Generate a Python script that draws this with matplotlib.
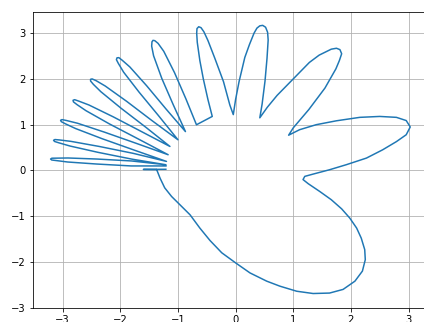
import numpy as np
import matplotlib
matplotlib.use("Agg")
import matplotlib.pyplot as plt

# points, in path order
spike = [(-1.21, 0.025), (-1.60, 0.022), (-1.37, 0.018)]

wrist = [(-1.37, 0.02), (-1.31, -0.17), (-1.23, -0.38), (-1.11, -0.57),
         (-0.965, -0.75), (-0.79, -0.97), (-0.62, -1.26), (-0.445, -1.53),
         (-0.24, -1.80), (0.0, -2.02), (0.25, -2.24), (0.54, -2.42),
         (0.77, -2.53), (1.06, -2.64), (1.345, -2.69), (1.63, -2.68),
         (1.865, -2.60), (2.07, -2.42), (2.20, -2.20), (2.25, -1.95),
         (2.24, -1.73), (2.18, -1.48), (2.10, -1.26), (1.98, -1.04),
         (1.84, -0.84), (1.66, -0.64), (1.46, -0.46), (1.26, -0.29),
         (1.17, -0.20), (1.20, -0.13), (1.345, -0.08)]

thumb = [(1.63, 0.015), (1.92, 0.125), (2.27, 0.27), (2.55, 0.45),
         (2.79, 0.63), (2.96, 0.78), (3.03, 0.95), (2.96, 1.09),
         (2.79, 1.16), (2.50, 1.18), (2.155, 1.16), (1.75, 1.085),
         (1.40, 1.0), (1.11, 0.89), (0.92, 0.77)]

finger10 = [(1.0, 0.93), (1.27, 1.33), (1.55, 1.80), (1.74, 2.22),
            (1.80, 2.40), (1.84, 2.55), (1.81, 2.64), (1.75, 2.67),
            (1.66, 2.65), (1.45, 2.52), (1.28, 2.36), (1.0, 2.0),
            (0.72, 1.64), (0.55, 1.38), (0.42, 1.15)]

finger9 = [(0.46, 1.45), (0.51, 1.95), (0.545, 2.45), (0.565, 2.85),
           (0.555, 3.02), (0.52, 3.13), (0.47, 3.17), (0.42, 3.16),
           (0.37, 3.11), (0.32, 3.00), (0.24, 2.75), (0.16, 2.47),
           (0.06, 1.94), (0.0, 1.55), (-0.04, 1.22)]

finger8 = [(-0.10, 1.43), (-0.21, 1.94), (-0.36, 2.45), (-0.48, 2.84),
           (-0.55, 3.03), (-0.60, 3.12), (-0.64, 3.14), (-0.67, 3.10),
           (-0.675, 3.00), (-0.665, 2.80), (-0.62, 2.40), (-0.56, 2.00),
           (-0.48, 1.55), (-0.405, 1.18)]

finger7 = [(-0.679, 0.998), (-0.861, 1.561), (-1.059, 2.135), (-1.246, 2.603),
           (-1.345, 2.777), (-1.402, 2.836), (-1.433, 2.843), (-1.451, 2.810),
           (-1.456, 2.716), (-1.423, 2.507), (-1.281, 2.013), (-1.083, 1.439),
           (-0.870, 0.849)]

finger6 = [(-1.206, 1.341), (-1.542, 1.849), (-1.835, 2.262), (-1.969, 2.410),
           (-2.026, 2.465), (-2.057, 2.461), (-2.068, 2.421), (-2.035, 2.341),
           (-1.943, 2.148), (-1.674, 1.710), (-1.340, 1.201), (-1.0, 0.670)]

finger5 = [(-1.456, 1.094), (-1.891, 1.511), (-2.262, 1.845), (-2.419, 1.961),
           (-2.489, 2.000), (-2.516, 1.991), (-2.516, 1.954), (-2.468, 1.882),
           (-2.338, 1.721), (-1.984, 1.356), (-1.551, 0.937), (-1.139, 0.524)]

finger4 = [(-1.620, 0.841), (-2.121, 1.170), (-2.544, 1.430), (-2.721, 1.515),
           (-2.792, 1.546), (-2.820, 1.533), (-2.813, 1.498), (-2.752, 1.439),
           (-2.596, 1.306), (-2.187, 1.015), (-1.686, 0.686), (-1.170, 0.343)]

finger3 = [(-1.719, 0.590), (-2.276, 0.837), (-2.742, 1.031), (-2.934, 1.091),
           (-3.012, 1.111), (-3.036, 1.096), (-3.024, 1.066), (-2.953, 1.019),
           (-2.775, 0.915), (-2.315, 0.693), (-1.761, 0.445), (-1.199, 0.197)]

finger2 = [(-1.779, 0.374), (-2.366, 0.524), (-2.856, 0.635), (-3.055, 0.666),
           (-3.134, 0.675), (-3.158, 0.659), (-3.141, 0.633), (-3.065, 0.603),
           (-2.872, 0.533), (-2.386, 0.395), (-1.800, 0.247), (-1.208, 0.124)]

finger1 = [(-1.806, 0.207), (-2.407, 0.249), (-2.908, 0.272), (-3.107, 0.270),
           (-3.188, 0.267), (-3.210, 0.249), (-3.190, 0.228), (-3.111, 0.215),
           (-2.912, 0.184), (-2.411, 0.140), (-1.811, 0.098), (-1.208, 0.098)]

curve = np.array(spike + wrist + thumb + finger10 + finger9 + finger8 + finger7
                 + finger6 + finger5 + finger4 + finger3 + finger2 + finger1)

fig = plt.figure(figsize=(424 / 72, 322 / 72), dpi=72)
ax = fig.add_axes([0.0778, 0.0444, 0.936, 0.918])
ax.plot(curve[:, 0], curve[:, 1])
ax.set_xlim(-3.515, 3.37)
ax.set_ylim(-2.99, 3.46)
ax.set_xticks(range(-3, 4))
ax.set_yticks(range(-3, 4))
ax.grid(True)
fig.savefig("out.png", dpi=72)
